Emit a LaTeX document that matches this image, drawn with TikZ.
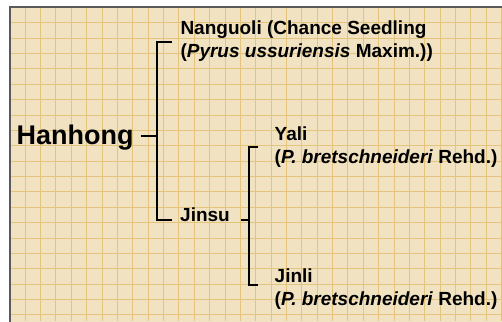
\documentclass[tikz,border=0pt]{standalone}
\usepackage{fontspec}
\setmainfont{Liberation Sans}
\definecolor{paper}{RGB}{241,227,194}
\definecolor{gridgold}{RGB}{228,196,124}
\definecolor{frame}{RGB}{90,90,90}
\tikzset{
  gridline/.style={draw=gridgold, line width=0.6pt},
  bracket/.style={draw=black, line width=1.8pt},
  cultivar/.style={anchor=base west, inner sep=0pt, align=left,
    font=\fontsize{19}{22.5}\selectfont\bfseries},
  root/.style={anchor=base west, inner sep=0pt,
    font=\fontsize{27}{30}\selectfont\bfseries}
}
\begin{document}
\begin{tikzpicture}[x=1pt,y=-1pt]
				\useasboundingbox (0,0) rectangle (502,321);
				\fill[paper] (10,7) rectangle (505,324);
				\foreach \i in {1,...,32}
					\draw[gridline] (9.63+15.37*\i,7) -- (9.63+15.37*\i,321);
				\foreach \j in {1,...,20}
					\draw[gridline] (10,7.3+15.37*\j) -- (502,7.3+15.37*\j);
				\draw[draw=frame, line width=1.6pt] (10,324) -- (10,7) -- (505,7);
				\node[root] (hanhong) at (16.5,144.3) {Hanhong};
				\node[cultivar] (nanguoli) at (180.3,57) {Nanguoli (Chance Seedling\\(\textit{Pyrus ussuriensis} Maxim.))};
				\node[cultivar] (jinsu) at (180,221.7) {Jinsu};
				\node[cultivar] (yali) at (274.5,163.3) {Yali\\(\textit{P. bretschneideri} Rehd.)};
				\node[cultivar] (jinli) at (274.5,305) {Jinli\\(\textit{P. bretschneideri} Rehd.)};
				\coordinate (hj) at (157,136);
				\coordinate (nt) at (172,41.7);
				\coordinate (jb) at (172,220);
				\coordinate (jj) at (249,220);
				\coordinate (yt) at (258,146.7);
				\coordinate (lb) at (258,285);
				\draw[bracket] (hanhong.east |- hj) ++(7,0) -- (hj);
				\draw[bracket] (nt) -| (hj) |- (jb);
				\draw[bracket] (jinsu.east |- jj) ++(11,0) -- (jj);
				\draw[bracket] (yt) -| (jj) |- (lb);
			\end{tikzpicture}
\end{document}
